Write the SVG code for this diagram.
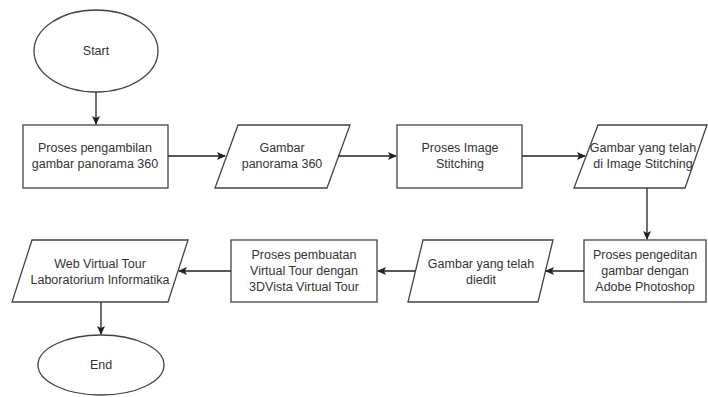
<svg xmlns="http://www.w3.org/2000/svg" width="708" height="397" viewBox="0 0 708 397">
<style>
.s{fill:#fff;stroke:#444;stroke-width:1.3}
.t{font-family:"Liberation Sans",Arial,sans-serif;font-size:12.5px;fill:#333;text-anchor:middle}
.c{fill:none;stroke:#222;stroke-width:1.3;marker-end:url(#a)}
</style>
<defs><marker id="a" markerWidth="10" markerHeight="10" refX="8" refY="5" orient="auto" markerUnits="userSpaceOnUse"><path d="M0,1 L9,5 L0,9 L2,5 Z" fill="#222"/></marker></defs>
<rect width="708" height="397" fill="#fff"/>
<g id="start"><ellipse class="s" cx="96" cy="51" rx="62" ry="41"/><text class="t" x="96" y="55">Start</text></g>
<g id="n1"><rect class="s" x="23" y="125" width="145" height="63"/><text class="t" x="95" y="152">Proses pengambilan</text><text class="t" x="95" y="168">gambar panorama 360</text></g>
<g id="n2"><polygon class="s" points="238,125 350,125 327,188 215,188"/><text class="t" x="282" y="152">Gambar</text><text class="t" x="282" y="168">panorama 360</text></g>
<g id="n3"><rect class="s" x="397" y="125" width="125" height="63"/><text class="t" x="460" y="152">Proses Image</text><text class="t" x="460" y="168">Stitching</text></g>
<g id="n4"><polygon class="s" points="598,125 707,125 685,188 574,188"/><text class="t" x="643" y="152">Gambar yang telah</text><text class="t" x="643" y="168">di Image Stitching</text></g>
<g id="n5"><rect class="s" x="584" y="240" width="122" height="62"/><text class="t" x="645" y="259">Proses pengeditan</text><text class="t" x="645" y="275">gambar dengan</text><text class="t" x="645" y="291">Adobe Photoshop</text></g>
<g id="n6"><polygon class="s" points="423,240 553,240 538,302 408,302"/><text class="t" x="481" y="268">Gambar yang telah</text><text class="t" x="481" y="284">diedit</text></g>
<g id="n7"><rect class="s" x="231" y="240" width="146" height="62"/><text class="t" x="304" y="259">Proses pembuatan</text><text class="t" x="304" y="275">Virtual Tour dengan</text><text class="t" x="304" y="291">3DVista Virtual Tour</text></g>
<g id="n8"><polygon class="s" points="32,240 188,240 168,302 12,302"/><text class="t" x="100" y="268">Web Virtual Tour</text><text class="t" x="100" y="284">Laboratorium Informatika</text></g>
<g id="end"><ellipse class="s" cx="101" cy="365" rx="63" ry="30"/><text class="t" x="101" y="369">End</text></g>
<g id="connectors">
<path class="c" d="M96,92 V124"/>
<path class="c" d="M168,156 H225"/>
<path class="c" d="M338,156 H396"/>
<path class="c" d="M522,156 H585"/>
<path class="c" d="M647,188 V239"/>
<path class="c" d="M584,271 H546"/>
<path class="c" d="M415,271 H378"/>
<path class="c" d="M231,271 H179"/>
<path class="c" d="M101,302 V334"/>
</g>
</svg>
